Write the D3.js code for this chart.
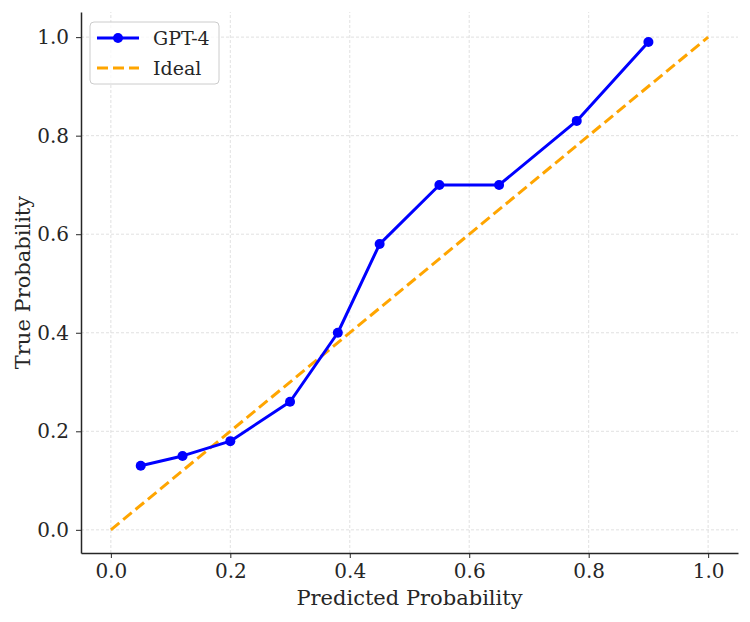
<!DOCTYPE html>
<html>
<head>
<meta charset="utf-8">
<script src="https://cdn.jsdelivr.net/npm/d3@7"></script>
<style>
  body { margin: 0; background: #fff; }
  text { font-family: "DejaVu Serif", serif; fill: #262626; }
</style>
</head>
<body>
<div id="plot"></div>
<script>
// Data
var predicted = [0.05, 0.12, 0.2, 0.3, 0.38, 0.45, 0.55, 0.65, 0.78, 0.9];
var trueProb = [0.13, 0.15, 0.18, 0.26, 0.40, 0.58, 0.70, 0.70, 0.83, 0.99];
var idealX = [0, 1];
var idealY = [0, 1];
var ticks = [0, 0.2, 0.4, 0.6, 0.8, 1.0];

const blue = "#0000ff";
const orange = "#ffa500";

var width = 750, height = 622;
var margin = { left: 81, right: 12, top: 12, bottom: 69 };

var svg = d3.select("#plot").append("svg")
    .attr("width", width)
    .attr("height", height);

var x = d3.scaleLinear().domain([-0.05, 1.05]).range([margin.left, width - margin.right]);
var y = d3.scaleLinear().domain([-0.047, 1.051]).range([height - margin.bottom, margin.top]);

// Grid lines
svg.append("g").selectAll("line.vg")
    .data(ticks).enter().append("line")
    .attr("x1", d => x(d)).attr("x2", d => x(d))
    .attr("y1", y.range()[0]).attr("y2", y.range()[1])
    .attr("stroke", "#d9d9d9").attr("stroke-width", 0.8)
    .attr("stroke-dasharray", "3,2");

svg.append("g").selectAll("line.hg")
    .data(ticks).enter().append("line")
    .attr("y1", d => y(d)).attr("y2", d => y(d))
    .attr("x1", x.range()[0]).attr("x2", x.range()[1])
    .attr("stroke", "#d9d9d9").attr("stroke-width", 0.8)
    .attr("stroke-dasharray", "3,2");

// Axes
var xAxis = svg.append("g")
    .attr("transform", "translate(0," + y.range()[0] + ")")
    .call(d3.axisBottom(x).tickValues(ticks).tickFormat(d3.format(".1f")).tickSizeInner(5).tickSizeOuter(0).tickPadding(6));
var yAxis = svg.append("g")
    .attr("transform", "translate(" + x.range()[0] + ",0)")
    .call(d3.axisLeft(y).tickValues(ticks).tickFormat(d3.format(".1f")).tickSizeInner(5).tickSizeOuter(0).tickPadding(7));

[xAxis, yAxis].forEach(function(a) {
    a.select(".domain").attr("stroke", "#262626").attr("stroke-width", 1.5);
    a.selectAll(".tick line").attr("stroke", "#262626").attr("stroke-width", 1);
    a.selectAll(".tick text").style("font-size", "20px").style("font-family", "DejaVu Serif, serif").attr("fill", "#262626");
});

// Axis labels
svg.append("text")
    .attr("x", (x.range()[0] + x.range()[1]) / 2)
    .attr("y", 605)
    .attr("text-anchor", "middle")
    .style("font-size", "21px")
    .text("Predicted Probability");

svg.append("text")
    .attr("transform", "translate(30," + ((y.range()[0] + y.range()[1]) / 2) + ") rotate(-90)")
    .attr("text-anchor", "middle")
    .style("font-size", "21px")
    .text("True Probability");

// Ideal line
svg.append("path")
    .datum(idealX.map((d, i) => [d, idealY[i]]))
    .attr("d", d3.line().x(d => x(d[0])).y(d => y(d[1])))
    .attr("fill", "none")
    .attr("stroke", orange)
    .attr("stroke-width", 3)
    .attr("stroke-dasharray", "11,5");

// GPT-4 line
var pts = predicted.map((d, i) => [d, trueProb[i]]);
svg.append("path")
    .datum(pts)
    .attr("d", d3.line().x(d => x(d[0])).y(d => y(d[1])))
    .attr("fill", "none")
    .attr("stroke", blue)
    .attr("stroke-width", 3)
    .attr("stroke-linejoin", "round");

svg.append("g").selectAll("circle")
    .data(pts).enter().append("circle")
    .attr("cx", d => x(d[0]))
    .attr("cy", d => y(d[1]))
    .attr("r", 5)
    .attr("fill", blue);

// Legend
var legend = svg.append("g").attr("transform", "translate(90,22)");
legend.append("rect")
    .attr("width", 129).attr("height", 62)
    .attr("rx", 4)
    .attr("fill", "#fff").attr("fill-opacity", 0.8)
    .attr("stroke", "#cccccc").attr("stroke-width", 1);

legend.append("line")
    .attr("x1", 7).attr("x2", 49).attr("y1", 16).attr("y2", 16)
    .attr("stroke", blue).attr("stroke-width", 3);
legend.append("circle").attr("cx", 28).attr("cy", 16).attr("r", 5).attr("fill", blue);
legend.append("text").attr("x", 63).attr("y", 23).style("font-size", "19px").text("GPT-4");

legend.append("line")
    .attr("x1", 7).attr("x2", 49).attr("y1", 46).attr("y2", 46)
    .attr("stroke", orange).attr("stroke-width", 3)
    .attr("stroke-dasharray", "11,5");
legend.append("text").attr("x", 63).attr("y", 53).style("font-size", "19px").text("Ideal");
</script>
</body>
</html>
